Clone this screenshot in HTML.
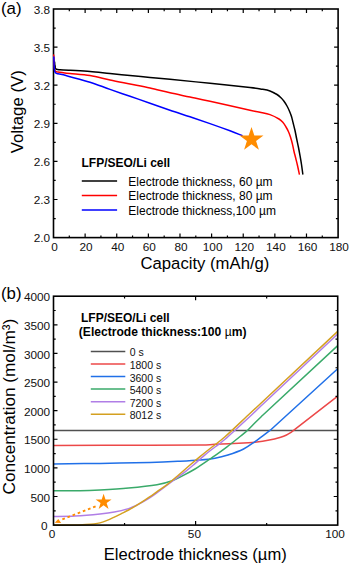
<!DOCTYPE html>
<html><head><meta charset="utf-8"><style>
html,body{margin:0;padding:0;background:#fff;}
body{width:350px;height:565px;overflow:hidden;}
svg{display:block;font-family:"Liberation Sans", sans-serif;}
</style></head><body>
<svg width="350" height="565" viewBox="0 0 350 565">
<rect width="350" height="565" fill="#fff"/>
<rect x="53.5" y="9" width="284.6" height="228.6" fill="none" stroke="#000" stroke-width="1.6"/>
<path d="M69.31,237.6v-2.2M69.31,9v2.2M85.12,237.6v-4M85.12,9v4M100.93,237.6v-2.2M100.93,9v2.2M116.74,237.6v-4M116.74,9v4M132.56,237.6v-2.2M132.56,9v2.2M148.37,237.6v-4M148.37,9v4M164.18,237.6v-2.2M164.18,9v2.2M179.99,237.6v-4M179.99,9v4M195.8,237.6v-2.2M195.8,9v2.2M211.61,237.6v-4M211.61,9v4M227.42,237.6v-2.2M227.42,9v2.2M243.23,237.6v-4M243.23,9v4M259.04,237.6v-2.2M259.04,9v2.2M274.86,237.6v-4M274.86,9v4M290.67,237.6v-2.2M290.67,9v2.2M306.48,237.6v-4M306.48,9v4M322.29,237.6v-2.2M322.29,9v2.2M53.5,218.55h2.2M338.1,218.55h-2.2M53.5,199.5h4M338.1,199.5h-4M53.5,180.45h2.2M338.1,180.45h-2.2M53.5,161.4h4M338.1,161.4h-4M53.5,142.35h2.2M338.1,142.35h-2.2M53.5,123.3h4M338.1,123.3h-4M53.5,104.25h2.2M338.1,104.25h-2.2M53.5,85.2h4M338.1,85.2h-4M53.5,66.15h2.2M338.1,66.15h-2.2M53.5,47.1h4M338.1,47.1h-4M53.5,28.05h2.2M338.1,28.05h-2.2" stroke="#000" stroke-width="1.2" fill="none"/>
<g fill="none" stroke-width="1.5" stroke-linejoin="round" stroke-linecap="round">
<path d="M54.6,62 C54.65,62.58 54.77,64.45 54.9,65.5 C55.03,66.55 55.13,67.67 55.4,68.3 C55.67,68.93 55.73,69.07 56.5,69.3 C57.27,69.53 57.75,69.53 60,69.7 C62.25,69.87 65,70.02 70,70.3 C75,70.58 83.33,70.87 90,71.4 C96.67,71.93 103.33,72.82 110,73.5 C116.67,74.18 123.33,74.85 130,75.5 C136.67,76.15 143.33,76.77 150,77.4 C156.67,78.03 160,78.32 170,79.3 C180,80.28 196.67,81.93 210,83.3 C223.33,84.67 241.33,86.52 250,87.5 C258.67,88.48 258.67,88.62 262,89.2 C265.33,89.78 267.5,90.12 270,91 C272.5,91.88 275.17,93.37 277,94.5 C278.83,95.63 279.83,96.67 281,97.8 C282.17,98.93 283,99.93 284,101.3 C285,102.67 286.08,104.35 287,106 C287.92,107.65 288.75,109.45 289.5,111.2 C290.25,112.95 290.92,114.63 291.5,116.5 C292.08,118.37 292.42,120.07 293,122.4 C293.58,124.73 294.4,127.82 295,130.5 C295.6,133.18 296.02,135.67 296.6,138.5 C297.18,141.33 297.92,144.55 298.5,147.5 C299.08,150.45 299.6,153.37 300.1,156.2 C300.6,159.03 301.05,161.53 301.5,164.5 C301.95,167.47 302.58,172.42 302.8,174" stroke="#000000"/>
<path d="M53.7,55 C53.73,55.83 53.82,58.17 53.9,60 C53.98,61.83 54.07,64.33 54.2,66 C54.33,67.67 54.43,69.08 54.7,70 C54.97,70.92 55.25,71.17 55.8,71.5 C56.35,71.83 56.97,71.82 58,72 C59.03,72.18 60,72.33 62,72.6 C64,72.87 65.33,73.1 70,73.6 C74.67,74.1 83.33,74.53 90,75.6 C96.67,76.67 103.33,78.6 110,80 C116.67,81.4 123.33,82.67 130,84 C136.67,85.33 143.33,86.53 150,88 C156.67,89.47 163.33,91.3 170,92.8 C176.67,94.3 183.33,95.58 190,97 C196.67,98.42 200,99.08 210,101.3 C220,103.52 241.67,108.48 250,110.3 C258.33,112.12 256.67,111.48 260,112.2 C263.33,112.92 266.83,113.47 270,114.6 C273.17,115.73 276.83,117.67 279,119 C281.17,120.33 281.83,121.27 283,122.6 C284.17,123.93 285.08,125.48 286,127 C286.92,128.52 287.77,130.08 288.5,131.7 C289.23,133.32 289.77,134.73 290.4,136.7 C291.03,138.67 291.72,141.12 292.3,143.5 C292.88,145.88 293.32,148.5 293.9,151 C294.48,153.5 295.2,156.08 295.8,158.5 C296.4,160.92 296.92,162.92 297.5,165.5 C298.08,168.08 299,172.58 299.3,174" stroke="#ff0000"/>
<path d="M53.8,57 C53.83,57.83 53.92,60.17 54,62 C54.08,63.83 54.17,66.42 54.3,68 C54.43,69.58 54.52,70.63 54.8,71.5 C55.08,72.37 55.47,72.82 56,73.2 C56.53,73.58 57,73.57 58,73.8 C59,74.03 60,74.12 62,74.6 C64,75.08 65.33,75.43 70,76.7 C74.67,77.97 83.33,80.08 90,82.2 C96.67,84.32 103.33,87.05 110,89.4 C116.67,91.75 123.33,94 130,96.3 C136.67,98.6 143.33,100.88 150,103.2 C156.67,105.52 163.33,107.93 170,110.2 C176.67,112.47 183.33,114.57 190,116.8 C196.67,119.03 203.33,121.27 210,123.6 C216.67,125.93 224.67,128.82 230,130.8 C235.33,132.78 240,134.72 242,135.5" stroke="#0000ff"/>
</g>
<g font-size="11.8" fill="#111">
<text x="54.5" y="251.3" text-anchor="middle">0</text>
<text x="86.12" y="251.3" text-anchor="middle">20</text>
<text x="117.74" y="251.3" text-anchor="middle">40</text>
<text x="149.37" y="251.3" text-anchor="middle">60</text>
<text x="180.99" y="251.3" text-anchor="middle">80</text>
<text x="212.61" y="251.3" text-anchor="middle">100</text>
<text x="244.23" y="251.3" text-anchor="middle">120</text>
<text x="275.86" y="251.3" text-anchor="middle">140</text>
<text x="307.48" y="251.3" text-anchor="middle">160</text>
<text x="339.1" y="251.3" text-anchor="middle">180</text>
<text x="50.1" y="242.2" text-anchor="end">2.0</text>
<text x="50.1" y="204.1" text-anchor="end">2.3</text>
<text x="50.1" y="166" text-anchor="end">2.6</text>
<text x="50.1" y="127.9" text-anchor="end">2.9</text>
<text x="50.1" y="89.8" text-anchor="end">3.2</text>
<text x="50.1" y="51.7" text-anchor="end">3.5</text>
<text x="50.1" y="13.6" text-anchor="end">3.8</text>
</g>
<text x="81.5" y="167.1" font-size="12" font-weight="bold" fill="#000">LFP/SEO/Li cell</text>
<path d="M81.8,181.1H117.1" stroke="#000000" stroke-width="1.5"/>
<text x="128.3" y="186" font-size="12" fill="#000">Electrode thickness, 60 µm</text>
<path d="M81.8,195.5H117.1" stroke="#ff0000" stroke-width="1.5"/>
<text x="128.3" y="200.4" font-size="12" fill="#000">Electrode thickness, 80 µm</text>
<path d="M81.8,210H117.1" stroke="#0000ff" stroke-width="1.5"/>
<text x="128.3" y="214.9" font-size="12" fill="#000">Electrode thickness,100 µm</text>
<polygon points="251.5,126.9 254.33,135.61 263.48,135.61 256.08,140.99 258.91,149.69 251.5,144.31 244.09,149.69 246.92,140.99 239.52,135.61 248.67,135.61" fill="#ff8c00"/>
<text x="0.9" y="13.9" font-size="16.9" fill="#000">(a)</text>
<text x="140.5" y="269" font-size="16.7" fill="#000">Capacity (mAh/g)</text>
<text transform="translate(22.5,111.7) rotate(-90)" text-anchor="middle" font-size="16.8" fill="#000">Voltage (V)</text>
<g fill="none" stroke-width="1.5" stroke-linejoin="round">
<path d="M53.5,430.6H337.7" stroke="#505050"/>
<path d="M53.5,445.4 C69.58,445.38 125.58,445.37 150,445.3 C174.42,445.23 189.17,445.17 200,445 C210.83,444.83 207.73,444.65 215,444.3 C222.27,443.95 236.93,443.25 243.6,442.9 C250.27,442.55 250.72,442.67 255,442.2 C259.28,441.73 265.02,440.93 269.3,440.1 C273.58,439.27 277.83,438.05 280.7,437.2 C283.57,436.35 284.78,435.8 286.5,435 C288.22,434.2 290.25,432.83 291,432.4 L337.7,396.2" stroke="#ec4848"/>
<path d="M53.5,463.9 C61.25,463.82 83.92,463.65 100,463.4 C116.08,463.15 136.67,462.77 150,462.4 C163.33,462.03 171.67,461.6 180,461.2 C188.33,460.8 194.17,460.5 200,460 C205.83,459.5 210.35,459.03 215,458.2 C219.65,457.37 223.13,456.53 227.9,455 C232.67,453.47 239.08,451.23 243.6,449 C248.12,446.77 251.92,443.72 255,441.6 C258.08,439.48 259.55,438.2 262.1,436.3 C264.65,434.4 268.93,431.22 270.3,430.2 L337.7,368.8" stroke="#2070e8"/>
<path d="M53.5,490.8 C57.92,490.8 72.25,490.93 80,490.8 C87.75,490.67 91.9,490.47 100,490 C108.1,489.53 119.1,488.88 128.6,488 C138.1,487.12 149.87,485.87 157,484.7 C164.13,483.53 167.08,482.52 171.4,481 C175.72,479.48 178.97,477.6 182.9,475.6 C186.83,473.6 191.32,471.22 195,469 C198.68,466.78 201.43,464.7 205,462.3 C208.57,459.9 213.07,456.92 216.4,454.6 C219.73,452.28 222.08,450.58 225,448.4 C227.92,446.22 231.28,443.57 233.9,441.5 C236.52,439.43 238.37,437.92 240.7,436 C243.03,434.08 245.52,432.2 247.9,430 C250.28,427.8 252.53,425.25 255,422.8 C257.47,420.35 261.42,416.55 262.7,415.3 L337.7,345.6" stroke="#3aaa6a"/>
<path d="M53.5,516.5 C57.08,516.42 67.25,516.42 75,516 C82.75,515.58 93.45,514.65 100,514 C106.55,513.35 109.53,513 114.3,512.1 C119.07,511.2 125.03,509.67 128.6,508.6 C132.17,507.53 133.32,506.82 135.7,505.7 C138.08,504.58 140.52,503.25 142.9,501.9 C145.28,500.55 147.63,499.15 150,497.6 C152.37,496.05 153.53,495.2 157.1,492.6 C160.67,490 166.63,485.53 171.4,482 C176.17,478.47 181.77,474.47 185.7,471.4 C189.63,468.33 191.78,466.37 195,463.6 C198.22,460.83 201.67,457.57 205,454.8 C208.33,452.03 211.67,449.58 215,447 C218.33,444.42 218.95,444.6 225,439.3 C231.05,434 245.13,420.92 251.3,415.2 C257.47,409.48 260.22,406.7 262,405 L337.7,334" stroke="#b07ee6"/>
<path d="M53.5,525 C56.25,525 65.92,525.02 70,525 C74.08,524.98 75.33,524.97 78,524.9 C80.67,524.83 83.33,524.75 86,524.6 C88.67,524.45 91.67,524.28 94,524 C96.33,523.72 97.82,523.5 100,522.9 C102.18,522.3 104.72,521.37 107.1,520.4 C109.48,519.43 111.92,518.23 114.3,517.1 C116.68,515.97 119.02,514.78 121.4,513.6 C123.78,512.42 126.22,511.3 128.6,510 C130.98,508.7 133.32,507.25 135.7,505.8 C138.08,504.35 140.52,502.82 142.9,501.3 C145.28,499.78 147.63,498.32 150,496.7 C152.37,495.08 154.2,493.67 157.1,491.6 C160,489.53 163.92,486.98 167.4,484.3 C170.88,481.62 174.23,478.72 178,475.5 C181.77,472.28 186.33,468.15 190,465 C193.67,461.85 196.33,459.6 200,456.6 C203.67,453.6 207.83,450.3 212,447 C216.17,443.7 219,442.08 225,436.8 C231,431.52 241.83,421.07 248,415.3 C254.17,409.53 259.67,404.38 262,402.2 L337.7,331.4" stroke="#d4a020"/>
</g>
<rect x="53.5" y="296.2" width="284.2" height="228.9" fill="none" stroke="#000" stroke-width="1.6"/>
<path d="M124.55,525.1v-2.2M124.55,296.2v2.2M195.6,525.1v-4M195.6,296.2v4M266.65,525.1v-2.2M266.65,296.2v2.2M53.5,510.79h2.2M337.7,510.79h-2.2M53.5,496.49h4M337.7,496.49h-4M53.5,482.18h2.2M337.7,482.18h-2.2M53.5,467.88h4M337.7,467.88h-4M53.5,453.57h2.2M337.7,453.57h-2.2M53.5,439.26h4M337.7,439.26h-4M53.5,424.96h2.2M337.7,424.96h-2.2M53.5,410.65h4M337.7,410.65h-4M53.5,396.34h2.2M337.7,396.34h-2.2M53.5,382.04h4M337.7,382.04h-4M53.5,367.73h2.2M337.7,367.73h-2.2M53.5,353.42h4M337.7,353.42h-4M53.5,339.12h2.2M337.7,339.12h-2.2M53.5,324.81h4M337.7,324.81h-4M53.5,310.51h2.2M337.7,310.51h-2.2" stroke="#000" stroke-width="1.2" fill="none"/>
<g font-size="11.8" fill="#111">
<text x="52" y="538.3" text-anchor="middle">0</text>
<text x="194.4" y="538.3" text-anchor="middle">50</text>
<text x="335.1" y="538.3" text-anchor="middle">100</text>
<text x="47.6" y="530.2" text-anchor="end">0</text>
<text x="50.2" y="501.59" text-anchor="end">500</text>
<text x="50.2" y="472.98" text-anchor="end">1000</text>
<text x="50.2" y="444.36" text-anchor="end">1500</text>
<text x="50.2" y="415.75" text-anchor="end">2000</text>
<text x="50.2" y="387.14" text-anchor="end">2500</text>
<text x="50.2" y="358.52" text-anchor="end">3000</text>
<text x="50.2" y="329.91" text-anchor="end">3500</text>
<text x="50.2" y="301.3" text-anchor="end">4000</text>
</g>
<text x="81" y="322.1" font-size="12" font-weight="bold" fill="#000">LFP/SEO/Li cell</text>
<text x="78.8" y="336.2" font-size="12.1" font-weight="bold" fill="#000">(Electrode thickness:100 <tspan font-weight="normal">µ</tspan>m)</text>
<path d="M90.8,351.4H125.3" stroke="#505050" stroke-width="1.5"/>
<text x="129.7" y="356.3" font-size="10.5" fill="#111">0 s</text>
<path d="M90.8,364H125.3" stroke="#ec4848" stroke-width="1.5"/>
<text x="129.7" y="368.9" font-size="10.5" fill="#111">1800 s</text>
<path d="M90.8,376.6H125.3" stroke="#2070e8" stroke-width="1.5"/>
<text x="129.7" y="381.5" font-size="10.5" fill="#111">3600 s</text>
<path d="M90.8,389.1H125.3" stroke="#3aaa6a" stroke-width="1.5"/>
<text x="129.7" y="394" font-size="10.5" fill="#111">5400 s</text>
<path d="M90.8,401.7H125.3" stroke="#b07ee6" stroke-width="1.5"/>
<text x="129.7" y="406.6" font-size="10.5" fill="#111">7200 s</text>
<path d="M90.8,414.3H125.3" stroke="#d4a020" stroke-width="1.5"/>
<text x="129.7" y="419.2" font-size="10.5" fill="#111">8012 s</text>
<path d="M95.6,506.3L62,519.4" stroke="#ff8c00" stroke-width="1.9" stroke-dasharray="2.7,2.8" fill="none"/>
<polygon points="54.8,522.8 58.3,518.9 61.2,522.9" fill="#ff8c00"/>
<polygon points="103.6,493.7 105.49,499.5 111.59,499.5 106.65,503.09 108.54,508.9 103.6,505.31 98.66,508.9 100.55,503.09 95.61,499.5 101.71,499.5" fill="#ff8c00"/>
<text x="1" y="299.3" font-size="16.8" fill="#000">(b)</text>
<text x="103.8" y="560.2" font-size="16.6" fill="#000">Electrode thickness (µm)</text>
<text transform="translate(15.4,406.6) rotate(-90)" text-anchor="middle" font-size="17.2" fill="#000">Concentration (mol/m³)</text>
</svg>
</body></html>
